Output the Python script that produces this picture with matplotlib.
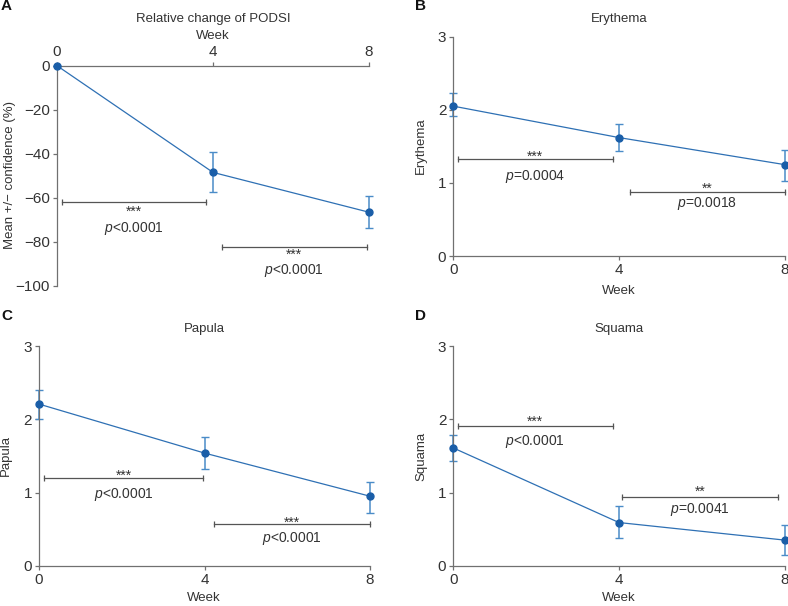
import matplotlib
matplotlib.use("Agg")
import matplotlib.pyplot as plt

plt.rcParams['font.family'] = ['Liberation Sans', 'DejaVu Sans']
plt.rcParams['mathtext.fontset'] = 'custom'
plt.rcParams['mathtext.it'] = 'Liberation Sans:italic'
plt.rcParams['mathtext.rm'] = 'Liberation Sans'

weeks = [0, 4, 8]

# Panel A: relative change of PODSI (%)
podsi_mean = [0, -48.5, -66.6]
podsi_low = [0, -57.5, -73.9]
podsi_high = [0, -39.4, -59.1]

erythema_mean = [2.05, 1.62, 1.25]
erythema_low = [1.91, 1.44, 1.03]
erythema_high = [2.23, 1.81, 1.45]

papula_mean = [2.21, 1.54, 0.95]
papula_low = [2.00, 1.32, 0.72]
papula_high = [2.40, 1.76, 1.15]

squama_mean = [1.61, 0.59, 0.35]
squama_low = [1.43, 0.38, 0.14]
squama_high = [1.79, 0.82, 0.55]

# brackets: (x_start, x_end, y, stars, ptext)
podsi_brackets = [(0.12, 3.81, -61.9, '***', r'$p$<0.0001'),
                  (4.22, 7.94, -82.3, '***', r'$p$<0.0001')]
erythema_brackets = [(0.11, 3.85, 1.33, '***', r'$p$=0.0004'),
                     (4.27, 8.0, 0.88, '**', r'$p$=0.0018')]
papula_brackets = [(0.13, 3.96, 1.20, '***', r'$p$<0.0001'),
                   (4.24, 8.0, 0.57, '***', r'$p$<0.0001')]
squama_brackets = [(0.11, 3.85, 1.91, '***', r'$p$<0.0001'),
                   (4.08, 7.83, 0.94, '**', r'$p$=0.0041')]

# label offsets in pixels below the bracket (star visual centre, p-text centre)
podsi_offsets = [(7, 27), (5, 23.5)]
erythema_offsets = [(-5, 17.5), (-6.5, 12)]
papula_offsets = [(-5, 16.5), (-5, 14)]
squama_offsets = [(-8, 15), (-8, 12.5)]

W, H = 788, 606
fig = plt.figure(figsize=(W / 100, H / 100), dpi=100)

def box(l, r, t, b):
    return [l / W, 1 - b / H, (r - l) / W, (b - t) / H]

def ftext(x, y, s, **kw):
    fig.text(x / W, 1 - y / H, s, **kw)

LINE = '#2e70b4'
MARK = '#1a5ea8'
ERR = '#4a8cc8'
BRK = '#555555'
SPINE = '#707070'
TXT = '#333333'
STAR_FS = 10
STAR_SHIFT = 3.3

def style(ax):
    for s in ax.spines.values():
        s.set_color(SPINE)
        s.set_linewidth(0.9)
    ax.tick_params(colors=SPINE, labelcolor=TXT, labelsize=11, length=3, width=0.9, pad=2)

def draw(ax, mean, low, high, brackets, offsets):
    yerr = [[m - l for m, l in zip(mean, low)], [h - m for m, h in zip(mean, high)]]
    ax.plot(weeks, mean, color=LINE, lw=0.9, clip_on=False, zorder=3)
    ax.errorbar(weeks, mean, yerr=yerr, fmt='none', ecolor=ERR, elinewidth=1.1,
                capsize=2.6, capthick=1.0, clip_on=False, zorder=2)
    ax.plot(weeks, mean, 'o', color=MARK, ms=5, clip_on=False, zorder=4)
    for (x0, x1, y, st, pt), (sdy, pdy) in zip(brackets, offsets):
        ax.plot([x0, x1], [y, y], color=BRK, lw=0.9, clip_on=False)
        ax.plot([x0, x1], [y, y], '|', color=BRK, ms=4.5, mew=0.9, clip_on=False)
        xm = (x0 + x1) / 2
        ax.annotate(st, (xm, y), xytext=(0, -(sdy + STAR_SHIFT)), textcoords='offset pixels',
                    ha='center', va='center', fontsize=STAR_FS, color=TXT)
        ax.annotate(pt, (xm, y), xytext=(0, -pdy), textcoords='offset pixels',
                    ha='center', va='center', fontsize=10, color=TXT)

# Panel A
axA = fig.add_axes(box(57, 369, 65.7, 285.7))
style(axA)
draw(axA, podsi_mean, podsi_low, podsi_high, podsi_brackets, podsi_offsets)
axA.set_xlim(0, 8)
axA.set_ylim(-100, 0)
axA.set_xticks(weeks)
axA.set_yticks([0, -20, -40, -60, -80, -100])
axA.set_yticklabels(['0', '\u221220', '\u221240', '\u221260', '\u221280', '\u2212100'])
axA.xaxis.tick_top()
axA.spines['bottom'].set_visible(False)
axA.spines['right'].set_visible(False)
ftext(213, 19, 'Relative change of PODSI', ha='center', va='center', fontsize=9.5, color=TXT)
ftext(213, 35.7, 'Week', ha='center', va='center', fontsize=9.5, color=TXT)
ftext(10, 175, 'Mean +/\u2212 confidence (%)', ha='center', va='center', rotation=90,
      fontsize=9.5, color=TXT)

def panel(rect, mean, low, high, brackets, offsets, title, cx, title_y, xlabel_y, ylab_x, ylab_y):
    ax = fig.add_axes(rect)
    style(ax)
    draw(ax, mean, low, high, brackets, offsets)
    ax.set_xlim(0, 8)
    ax.set_ylim(0, 3)
    ax.set_xticks(weeks)
    ax.set_yticks([0, 1, 2, 3])
    ax.spines['top'].set_visible(False)
    ax.spines['right'].set_visible(False)
    ftext(cx, title_y, title, ha='center', va='center', fontsize=9.5, color=TXT)
    ftext(cx, xlabel_y, 'Week', ha='center', va='center', fontsize=9.5, color=TXT)
    ftext(ylab_x, ylab_y, title, ha='center', va='center', rotation=90, fontsize=9.5, color=TXT)
    return ax

axB = panel(box(453.3, 784.7, 36.7, 256), erythema_mean, erythema_low, erythema_high,
            erythema_brackets, erythema_offsets, 'Erythema', 619, 19, 291, 421, 146)
axC = panel(box(39, 370, 346.3, 565.7), papula_mean, papula_low, papula_high,
            papula_brackets, papula_offsets, 'Papula', 204, 329, 598, 6, 456)
axD = panel(box(453.3, 784.7, 346.3, 565.7), squama_mean, squama_low, squama_high,
            squama_brackets, squama_offsets, 'Squama', 619, 329, 598, 421, 456)

for lab, x, y in [('A', 1, 6), ('B', 415, 6), ('C', 1, 316), ('D', 415, 316)]:
    ftext(x, y, lab, ha='left', va='center', fontsize=11, fontweight='bold', color='#111111')

fig.savefig('out.png', dpi=100)
